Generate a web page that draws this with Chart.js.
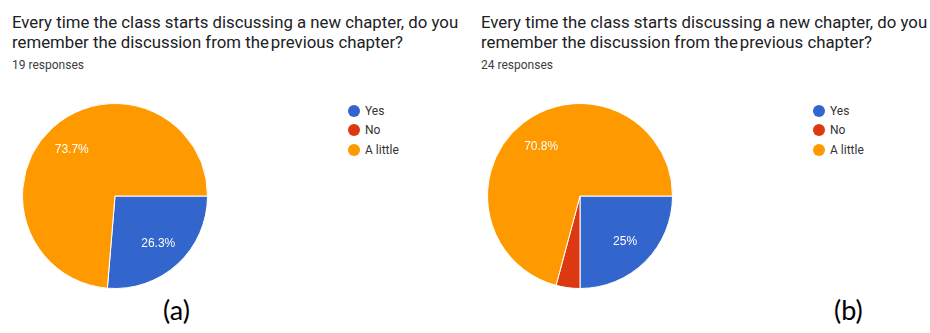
<!DOCTYPE html>
<html>
<head>
<meta charset="utf-8">
<script src="https://cdn.jsdelivr.net/npm/chart.js@4.4.1/dist/chart.umd.min.js"></script>
<style>
  html, body { margin: 0; padding: 0; background: #fff; }
  body { position: relative; width: 930px; height: 333px; overflow: hidden; font-family: Roboto, Arial, sans-serif; }
  .title { position: absolute; top: 12px; font-size: 16.8px; line-height: 20px; color: #202124; white-space: nowrap; }
  .count { position: absolute; top: 58px; font-size: 12px; color: #3c4043; }
  .pie { position: absolute; top: 103px; }
  .legend { position: absolute; top: 101px; font-size: 12px; color: #333; }
  .legend div { height: 19.5px; line-height: 16px; display: flex; align-items: center; }
  .legend span.dot { width: 12px; height: 12px; border-radius: 50%; margin-right: 5px; display: inline-block; }
  .tag { position: absolute; top: 293px; font-family: Lato, "Open Sans", sans-serif; font-size: 27px; color: #000; }
</style>
</head>
<body>
  <div class="title" style="left:12px">Every time the class starts discussing a new chapter, do you<br>remember the discussion from the<span style="margin-left:2px">previous chapter?</span></div>
  <div class="count" style="left:12px">19 responses</div>
  <canvas id="pieA" class="pie" width="186" height="186" style="left:22px"></canvas>
  <div id="legendA" class="legend" style="left:348px"></div>
  <div class="tag" style="left:163px">(a)</div>

  <div class="title" style="left:481px">Every time the class starts discussing a new chapter, do you<br>remember the discussion from the<span style="margin-left:2px">previous chapter?</span></div>
  <div class="count" style="left:481px">24 responses</div>
  <canvas id="pieB" class="pie" width="186" height="186" style="left:487px"></canvas>
  <div id="legendB" class="legend" style="left:813px"></div>
  <div class="tag" style="left:834px">(b)</div>

<script>
// survey answers and response counts for the two classes
const answers = ['Yes', 'No', 'A little'];
const countsA = [5, 0, 14];   // 19 responses
const countsB = [6, 1, 17];   // 24 responses
const sliceColors = ['#3366cc', '#dc3912', '#ff9900'];

// writes the share of each slice inside it, skipping tiny ones
const percentLabels = {
  id: 'percentLabels',
  afterDatasetsDraw(chart) {
    const ctx = chart.ctx;
    const data = chart.data.datasets[0].data;
    const total = data.reduce((a, b) => a + b, 0);
    const meta = chart.getDatasetMeta(0);
    ctx.save();
    ctx.fillStyle = '#ffffff';
    ctx.font = '12px Arial, "Liberation Sans", sans-serif';
    ctx.textAlign = 'center';
    ctx.textBaseline = 'middle';
    meta.data.forEach((arc, i) => {
      const share = data[i] / total * 100;
      if (share < 5) return;
      const { x, y, startAngle, endAngle, outerRadius } =
        arc.getProps(['x', 'y', 'startAngle', 'endAngle', 'outerRadius'], true);
      const mid = (startAngle + endAngle) / 2;
      const r = outerRadius * 0.69;
      const text = share.toFixed(1).replace(/\.0$/, '') + '%';
      ctx.fillText(text, x + Math.cos(mid) * r, y + Math.sin(mid) * r + 1);
    });
    ctx.restore();
  }
};

function drawPie(canvasId, legendId, counts) {
  const ctx = document.getElementById(canvasId).getContext('2d');
  new Chart(ctx, {
    type: 'pie',
    data: {
      labels: answers,
      datasets: [{
        data: counts,
        backgroundColor: sliceColors,
        borderColor: '#ffffff',
        borderWidth: 1
      }]
    },
    options: {
      responsive: false,
      animation: false,
      rotation: 90,
      layout: { padding: 0 },
      plugins: {
        legend: { display: false },
        tooltip: { enabled: false }
      }
    },
    plugins: [percentLabels]
  });

  // legend list next to the pie
  const legend = document.getElementById(legendId);
  answers.forEach((name, i) => {
    const row = document.createElement('div');
    const dot = document.createElement('span');
    dot.className = 'dot';
    dot.style.background = sliceColors[i];
    row.appendChild(dot);
    row.appendChild(document.createTextNode(name));
    legend.appendChild(row);
  });
}

drawPie('pieA', 'legendA', countsA);
drawPie('pieB', 'legendB', countsB);
</script>
</body>
</html>
